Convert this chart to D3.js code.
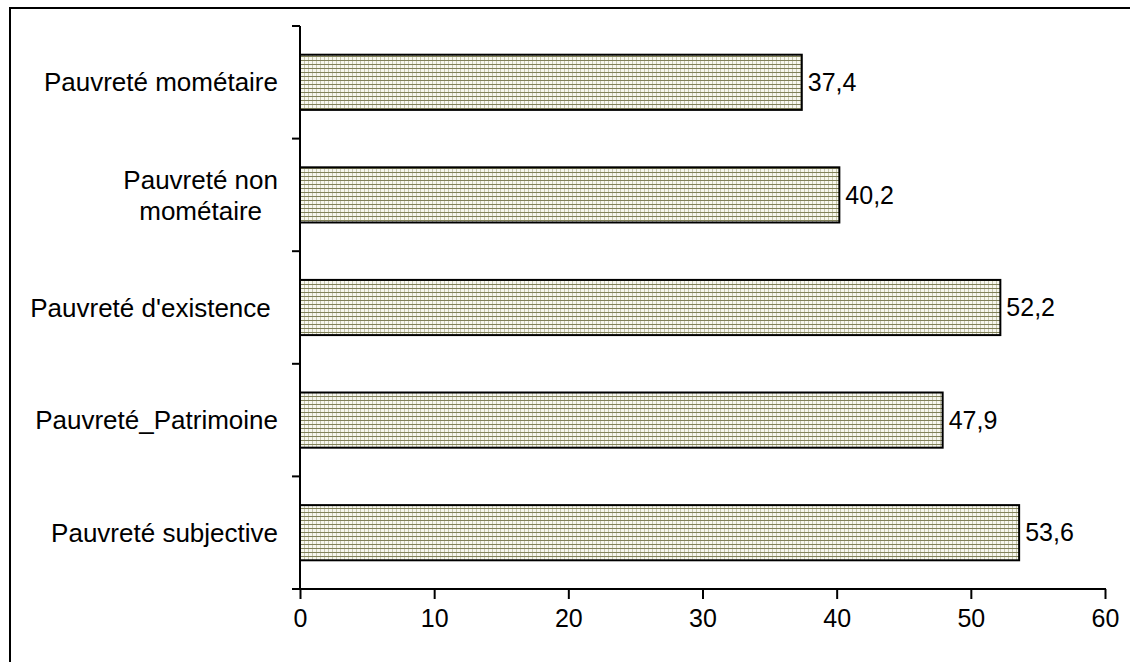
<!DOCTYPE html>
<html>
<head>
<meta charset="utf-8">
<script src="https://cdn.jsdelivr.net/npm/d3@7"></script>
<style>
html,body{margin:0;padding:0;background:#fff;}
svg{display:block;}
text{font-family:"Liberation Sans",Arial,sans-serif;fill:#000;}
</style>
</head>
<body>
<svg id="chart" width="1130" height="662"></svg>
<script>
const categories = [
  ["Pauvreté mométaire"],
  ["Pauvreté non", "mométaire"],
  ["Pauvreté d'existence "],
  ["Pauvreté_Patrimoine"],
  ["Pauvreté subjective"]
];
const values = [37.4, 40.2, 52.2, 47.9, 53.6];
const valueLabels = ["37,4", "40,2", "52,2", "47,9", "53,6"];
const xTicks = [0, 10, 20, 30, 40, 50, 60];

const svg = d3.select("#chart");
const fontSize = 25;
const catFont = 26;

// pattern
const defs = svg.append("defs");
const pat = defs.append("pattern").attr("id", "hatch")
  .attr("patternUnits", "userSpaceOnUse").attr("width", 4).attr("height", 4);
pat.append("rect").attr("width", 4).attr("height", 4).attr("fill", "#f7f7ee");
pat.append("rect").attr("x", 0).attr("y", 0).attr("width", 1).attr("height", 4).attr("fill", "#c6c6b0");
pat.append("rect").attr("x", 0).attr("y", 0).attr("width", 4).attr("height", 1).attr("fill", "#808058");

// frame (left & top visible)
svg.append("path").attr("d", "M10,700 L10,8 L1140,8")
  .attr("fill", "none").attr("stroke", "#000").attr("stroke-width", 2);

const x = d3.scaleLinear().domain([0, 60]).range([300, 1105]);
const y = d3.scaleBand().domain(d3.range(categories.length)).range([26, 589])
  .paddingInner(0.51).paddingOuter(0.255);
const step = y.step();

// bars
svg.append("g").selectAll("rect").data(values).join("rect")
  .attr("x", x(0))
  .attr("y", (d, i) => y(i))
  .attr("width", d => x(d) - x(0))
  .attr("height", y.bandwidth())
  .attr("fill", "url(#hatch)")
  .attr("stroke", "#000").attr("stroke-width", 2);

// value labels
svg.append("g").selectAll("text").data(values).join("text")
  .attr("x", d => x(d) + 6)
  .attr("y", (d, i) => y(i) + y.bandwidth() / 2)
  .attr("dy", "0.35em")
  .attr("font-size", fontSize)
  .text((d, i) => valueLabels[i]);

// x axis
const xAxis = d3.axisBottom(x).tickValues(xTicks).tickSize(10).tickPadding(10)
  .tickFormat(d3.format("d"));
const gx = svg.append("g").attr("transform", "translate(0,589)").call(xAxis);
gx.select(".domain").remove();
gx.selectAll("line").attr("stroke", "#000").attr("stroke-width", 2);
gx.selectAll("text").attr("font-size", fontSize).attr("font-family", "Liberation Sans, Arial, sans-serif").attr("fill", "#000");
svg.append("line").attr("x1", 292).attr("x2", x(60) + 1).attr("y1", 589).attr("y2", 589)
  .attr("stroke", "#000").attr("stroke-width", 2);

// y axis line and category boundary ticks
svg.append("line").attr("x1", 300).attr("x2", 300).attr("y1", 26).attr("y2", 590)
  .attr("stroke", "#000").attr("stroke-width", 2);
const bounds = d3.range(categories.length + 1).map(i => 26 + i * step);
svg.append("g").selectAll("line").data(bounds).join("line")
  .attr("x1", 292).attr("x2", 300).attr("y1", d => d).attr("y2", d => d)
  .attr("stroke", "#000").attr("stroke-width", 2);

// category labels
const lineH = 31;
const catG = svg.append("g").selectAll("g").data(categories).join("g");
catG.each(function(lines, i) {
  const g = d3.select(this);
  const cy = y(i) + y.bandwidth() / 2;
  const t = g.append("text").attr("font-size", catFont).style("white-space", "pre");
  if (lines.length === 1) {
    t.attr("x", 278).attr("y", cy).attr("dy", "0.35em").attr("text-anchor", "end").text(lines[0]);
  } else {
    const tmp = g.append("text").attr("font-size", catFont).text(lines[0]);
    let w = 0;
    lines.forEach(l => { tmp.text(l); w = Math.max(w, tmp.node().getComputedTextLength()); });
    tmp.remove();
    const cx = 278 - w / 2;
    t.attr("text-anchor", "middle");
    lines.forEach((l, k) => {
      t.append("tspan").attr("x", cx)
        .attr("y", cy + (k - (lines.length - 1) / 2) * lineH)
        .attr("dy", "0.35em").text(l);
    });
  }
});
</script>
</body>
</html>
